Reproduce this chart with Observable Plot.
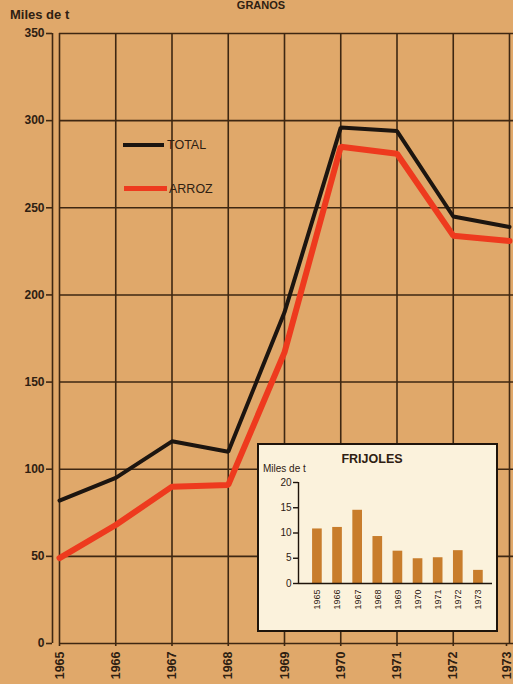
<!DOCTYPE html>
<html>
<head>
<meta charset="utf-8">
<script src="https://cdn.jsdelivr.net/npm/d3@7"></script>
<script src="https://cdn.jsdelivr.net/npm/@observablehq/plot@0.6"></script>
<style>
  html, body { margin: 0; padding: 0; background: #e0a86a; }
  #wrap { position: relative; width: 513px; height: 684px; overflow: hidden; background: #e0a86a;
          font-family: "Liberation Sans", Arial, sans-serif; color: #2e2012; }
  #main { position: absolute; left: 0; top: 0; }
  .abs { position: absolute; white-space: nowrap; }
  #title { left: 261px; top: 0px; transform: translateX(-50%); font-weight: bold; font-size: 11px; line-height: 11px; }
  #unit { left: 10px; top: 8px; font-weight: bold; font-size: 13px; line-height: 14px; }
  .leg { font-size: 12.5px; line-height: 14px; }
  .legline { position: absolute; height: 4px; }
  #inset { position: absolute; left: 257px; top: 443px; width: 237px; height: 185px;
           border: 2px solid #1e140b; background: #fbf2dc; }
  #ititle { left: 113px; top: 8px; transform: translateX(-50%); font-weight: bold; font-size: 12.5px; line-height: 13px; }
  #iunit { left: 4px; top: 18px; font-size: 10px; line-height: 11px; }
</style>
</head>
<body>
<div id="wrap">
  <div id="main"></div>
  <div class="abs" id="title">GRANOS</div>
  <div class="abs" id="unit">Miles de t</div>
  <div class="legline" style="left:123px; top:143px; width:41px; background:#1c1510;"></div>
  <div class="abs leg" style="left:167px; top:138px;">TOTAL</div>
  <div class="legline" style="left:124px; top:186px; width:43px; height:5px; background:#ee3a1e;"></div>
  <div class="abs leg" style="left:169px; top:182px;">ARROZ</div>
  <div id="inset">
    <div class="abs" id="ititle">FRIJOLES</div>
    <div class="abs" id="iunit">Miles de t</div>
    <div id="insetplot"></div>
  </div>
</div>
<script>
// ---- data ----
const years = [1965, 1966, 1967, 1968, 1969, 1970, 1971, 1972, 1973];
const total = [82, 95, 116, 110, 190, 296, 294, 245, 239];
const arroz = [49, 68, 90, 91, 167, 285, 281, 234, 231];
const frijoles = [10.8, 11.1, 14.5, 9.3, 6.4, 4.9, 5.1, 6.5, 2.6];
const yTicks = [0, 50, 100, 150, 200, 250, 300, 350];
const fTicks = [0, 5, 10, 15, 20];

const seriesT = years.map((y, i) => ({year: y, value: total[i], s: "TOTAL"}));
const seriesA = years.map((y, i) => ({year: y, value: arroz[i], s: "ARROZ"}));
const beans = years.map((y, i) => ({year: y, value: frijoles[i]}));
const lastYear = years[years.length - 1];

const ink = "#3e2712";
const labelOpts = {tickSize: 3, tickPadding: 5, tickRotate: -90, tickFormat: d => String(d),
                   fontSize: 12.5, fontWeight: "bold", stroke: ink, strokeWidth: 1.6, label: null};

const main = Plot.plot({
  width: 513,
  height: 684,
  marginLeft: 59,
  marginRight: 0,
  marginTop: 33,
  marginBottom: 41,
  style: {background: "transparent", fontFamily: "Liberation Sans, Arial, sans-serif", color: "#2e2012", overflow: "visible"},
  x: {domain: [1965, 1973], range: [59, 509]},
  y: {domain: [0, 350]},
  marks: [
    Plot.ruleY(yTicks, {stroke: ink, strokeWidth: 1.6}),
    Plot.ruleX(years, {y1: 0, y2: 350, stroke: ink, strokeWidth: 1.6}),
    Plot.ruleX([years[0]], {y1: 0, y2: 350, dx: -7, stroke: ink, strokeWidth: 1.6}),
    Plot.axisY({ticks: yTicks, tickFormat: d => String(d), dx: -7, tickSize: 6, tickPadding: 2,
                fontSize: 12, fontWeight: "bold", stroke: ink, strokeWidth: 1.6, label: null}),
    Plot.axisX({...labelOpts, ticks: years.filter(y => y !== lastYear)}),
    Plot.axisX({...labelOpts, ticks: [lastYear], dx: -3}),
    Plot.line(seriesA, {x: "year", y: "value", stroke: "#ee3a1e", strokeWidth: 6, strokeLinejoin: "miter"}),
    Plot.line(seriesT, {x: "year", y: "value", stroke: "#1c1510", strokeWidth: 4, strokeLinejoin: "miter"})
  ]
});
document.getElementById("main").appendChild(main);

const fx0 = 1964.06;
const inset = Plot.plot({
  width: 237,
  height: 185,
  marginLeft: 39,
  marginRight: 4,
  marginTop: 37,
  marginBottom: 47,
  style: {background: "transparent", fontFamily: "Liberation Sans, Arial, sans-serif", color: "#2e2012", overflow: "visible"},
  x: {domain: [fx0, 1973.7]},
  y: {domain: [0, 20]},
  marks: [
    Plot.rectY(beans, {x1: d => d.year - 0.24, x2: d => d.year + 0.24, y: "value", fill: "#c87d2c"}),
    Plot.ruleY([0], {stroke: "#1e140b", strokeWidth: 1.6}),
    Plot.ruleX([fx0], {y1: 0, y2: 20, stroke: "#1e140b", strokeWidth: 1.4}),
    Plot.axisY({ticks: fTicks, tickSize: 5, tickPadding: 2, fontSize: 10, stroke: "#1e140b", strokeWidth: 1.4, label: null}),
    Plot.axisX({ticks: years, tickFormat: d => String(d), tickSize: 0, tickPadding: 6, tickRotate: -90,
                fontSize: 9, label: null})
  ]
});
document.getElementById("insetplot").appendChild(inset);
</script>
</body>
</html>
